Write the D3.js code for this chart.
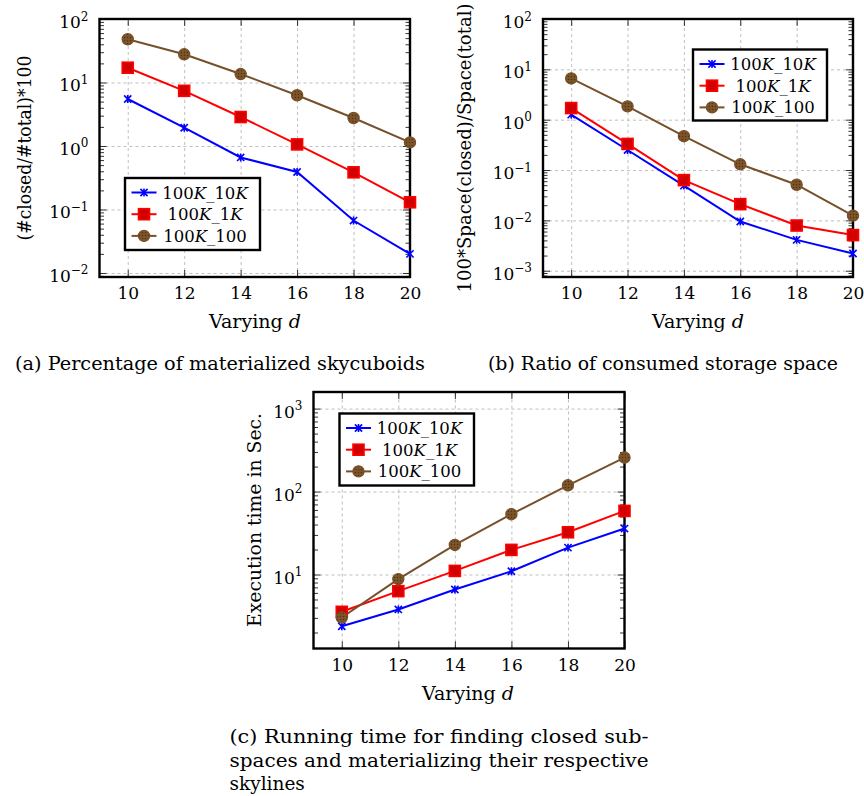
<!DOCTYPE html>
<html>
<head>
<meta charset="utf-8">
<script src="https://cdn.jsdelivr.net/npm/d3@7"></script>
<style>
  body { margin: 0; background: #fff; }
  svg { display: block; }
  text { font-family: "DejaVu Serif", "Liberation Serif", serif; fill: #000; }
</style>
</head>
<body>
<svg id="fig" width="864" height="796"></svg>
<script>
// ---- data ----
const dValues = [10, 12, 14, 16, 18, 20];
const xTicks = [10, 12, 14, 16, 18, 20];
const seriesKeys = ["10K", "1K", "100"];

// (a) percentage of materialized skycuboids
const closedPct10K = [5.5, 1.94, 0.66, 0.39, 0.067, 0.020];
const closedPct1K  = [17.1, 7.4, 2.86, 1.06, 0.385, 0.13];
const closedPct100 = [48, 27.8, 13.6, 6.3, 2.76, 1.14];

// (b) ratio of consumed storage space
const spaceRatio10K = [1.26, 0.25, 0.049, 0.0095, 0.0041, 0.0022];
const spaceRatio1K  = [1.7, 0.33, 0.063, 0.021, 0.0079, 0.0051];
const spaceRatio100 = [6.6, 1.84, 0.47, 0.13, 0.051, 0.0124];

// (c) running time in seconds
const runTime10K = [2.38, 3.79, 6.6, 10.95, 21.1, 35.8];
const runTime1K  = [3.55, 6.3, 11.05, 19.8, 32.3, 58.4];
const runTime100 = [3.03, 8.8, 22.7, 53.3, 119, 257];

const yTickExpA = [-2, -1, 0, 1, 2];
const yTickExpB = [-3, -2, -1, 0, 1, 2];
const yTickExpC = [1, 2, 3];

// ---- drawing ----
const svg = d3.select("#fig");
const BLUE = "#0000ff", RED = "#ff0000", BROWN = "#76502a";

const defs = svg.append("defs");
const pat = defs.append("pattern").attr("id", "dots")
  .attr("patternUnits", "userSpaceOnUse").attr("width", 3).attr("height", 3);
pat.append("rect").attr("width", 3).attr("height", 3).attr("fill", "#7d5529");
pat.append("circle").attr("cx", 1.5).attr("cy", 1.5).attr("r", 0.75).attr("fill", "#4f3216");

const styles = {
  "10K": { color: BLUE },
  "1K":  { color: RED },
  "100": { color: BROWN }
};

function drawMarker(g, key, cx, cy) {
  if (key === "10K") {
    const r = 3.6;
    g.append("path")
      .attr("d", `M${cx - r},${cy - r}L${cx + r},${cy + r}M${cx - r},${cy + r}L${cx + r},${cy - r}M${cx},${cy - r * 1.1}L${cx},${cy + r * 1.1}`)
      .attr("stroke", BLUE).attr("stroke-width", 1.6).attr("fill", "none");
  } else if (key === "1K") {
    g.append("rect").attr("x", cx - 5.5).attr("y", cy - 5.5)
      .attr("width", 11).attr("height", 11)
      .attr("fill", "#d20000").attr("stroke", RED).attr("stroke-width", 1.6);
  } else {
    g.append("circle").attr("cx", cx).attr("cy", cy).attr("r", 5.6)
      .attr("fill", "url(#dots)").attr("stroke", BROWN).attr("stroke-width", 1.2);
  }
}

function legendLabel(t, key) {
  t.append("tspan").text("100");
  t.append("tspan").attr("font-style", "italic").text("K");
  t.append("tspan").text("_");
  if (key === "100") {
    t.append("tspan").text("100");
  } else {
    t.append("tspan").text(key === "10K" ? "10" : "1");
    t.append("tspan").attr("font-style", "italic").text("K");
  }
}

function supLabel(sel, exp) {
  sel.text(null);
  sel.append("tspan").text("10");
  sel.append("tspan").attr("font-size", 12).attr("dy", -7.5)
    .text(String(exp).replace("-", "\u2212"));
}

function panel(cfg) {
  const g = svg.append("g");
  const x = d3.scaleLinear().domain([9, 20]).range([cfg.x0, cfg.x1]);
  const y = d3.scaleLog().domain([cfg.ymin, cfg.ymax]).range([cfg.y1, cfg.y0]);
  const W = cfg.x1 - cfg.x0, H = cfg.y1 - cfg.y0;
  const majors = cfg.exps.map(e => Math.pow(10, e));
  const minors = [];
  const lo = Math.floor(Math.log10(cfg.ymin)), hi = Math.ceil(Math.log10(cfg.ymax));
  for (let e = lo; e < hi; e++) for (let m = 2; m <= 9; m++) {
    const v = m * Math.pow(10, e);
    if (v >= cfg.ymin && v <= cfg.ymax) minors.push(v);
  }

  // dashed major grid
  const gridStyle = s => {
    s.select(".domain").remove();
    s.selectAll(".tick line").attr("stroke", "#b8b8b8").attr("stroke-width", 0.9).attr("stroke-dasharray", "3,3");
  };
  g.append("g").attr("transform", `translate(${cfg.x0},0)`)
    .call(d3.axisLeft(y).tickValues(majors).tickSize(-W).tickFormat("")).call(gridStyle);
  g.append("g").attr("transform", `translate(0,${cfg.y1})`)
    .call(d3.axisBottom(x).tickValues(xTicks).tickSize(-H).tickFormat("")).call(gridStyle);

  // ticks (inside, on both sides)
  const tickStyle = s => { s.select(".domain").remove(); s.selectAll(".tick line").attr("stroke", "#000").attr("stroke-width", 0.8); };
  g.append("g").attr("transform", `translate(${cfg.x0},0)`)
    .call(d3.axisLeft(y).tickValues(minors).tickSize(-4.5).tickFormat("")).call(tickStyle);
  g.append("g").attr("transform", `translate(${cfg.x1},0)`)
    .call(d3.axisRight(y).tickValues(minors).tickSize(-4.5).tickFormat("")).call(tickStyle);
  g.append("g").attr("transform", `translate(${cfg.x1},0)`)
    .call(d3.axisRight(y).tickValues(majors).tickSize(-7).tickFormat("")).call(tickStyle);
  g.append("g").attr("transform", `translate(0,${cfg.y0})`)
    .call(d3.axisTop(x).tickValues(xTicks).tickSize(-7).tickFormat("")).call(tickStyle);

  const yAx = g.append("g").attr("transform", `translate(${cfg.x0},0)`)
    .call(d3.axisLeft(y).tickValues(majors).tickSize(-7).tickPadding(11).tickFormat(d => d))
    .call(tickStyle);
  yAx.attr("font-family", null).attr("font-size", null);
  yAx.selectAll(".tick text")
    .attr("font-size", 17).attr("dy", 8.5)
    .each(function (d) { supLabel(d3.select(this), Math.round(Math.log10(d))); });

  const xAx = g.append("g").attr("transform", `translate(0,${cfg.y1})`)
    .call(d3.axisBottom(x).tickValues(xTicks).tickSize(-7).tickPadding(10))
    .call(tickStyle);
  xAx.attr("font-family", null).attr("font-size", null);
  xAx.selectAll(".tick text").attr("font-size", 17);

  // frame
  g.append("rect").attr("x", cfg.x0).attr("y", cfg.y0).attr("width", W).attr("height", H)
    .attr("fill", "none").attr("stroke", "#000").attr("stroke-width", 2.4);

  // series lines, then markers on top
  const line = d3.line().x((d, i) => x(dValues[i])).y(d => y(d));
  cfg.series.forEach((vals, k) => {
    const key = seriesKeys[k];
    g.append("path").datum(vals).attr("d", line)
      .attr("fill", "none").attr("stroke", styles[key].color).attr("stroke-width", 2);
  });
  cfg.series.forEach((vals, k) => {
    const key = seriesKeys[k];
    const mg = g.append("g");
    vals.forEach((v, i) => drawMarker(mg, key, x(dValues[i]), y(v)));
  });

  // axis titles
  const xt = g.append("text").attr("x", cfg.xTitleX).attr("y", cfg.y1 + 51)
    .attr("text-anchor", "middle").attr("font-size", 18.5)
    .attr("textLength", 92).attr("lengthAdjust", "spacingAndGlyphs");
  xt.append("tspan").text("Varying ");
  xt.append("tspan").attr("font-style", "italic").text("d");

  g.append("text")
    .attr("transform", `translate(${cfg.yTitleX},${cfg.yTitleY}) rotate(-90)`)
    .attr("text-anchor", "middle").attr("font-size", 18)
    .attr("textLength", cfg.yTitleLen).attr("lengthAdjust", "spacingAndGlyphs")
    .text(cfg.yTitle);

  // legend
  const L = cfg.legend;
  const lg = g.append("g");
  lg.append("rect").attr("x", L.x).attr("y", L.y).attr("width", L.w).attr("height", L.h)
    .attr("fill", "#fff").attr("stroke", "#000").attr("stroke-width", 2.4);
  seriesKeys.forEach((key, k) => {
    const cy = L.y + 14.5 + k * 21.7;
    const lx0 = L.x + 6.5, lx1 = L.x + 31.5;
    lg.append("line").attr("x1", lx0).attr("x2", lx1).attr("y1", cy).attr("y2", cy)
      .attr("stroke", styles[key].color).attr("stroke-width", 2);
    drawMarker(lg, key, (lx0 + lx1) / 2, cy);
    const t = lg.append("text").attr("x", L.x + 80).attr("y", cy + 6)
      .attr("text-anchor", "middle").attr("font-size", 16.5);
    legendLabel(t, key);
  });
}

panel({
  x0: 99.5, x1: 410, y0: 19, y1: 277,
  ymin: Math.pow(10, -2.063), ymax: 100, exps: yTickExpA,
  series: [closedPct10K, closedPct1K, closedPct100],
  xTitleX: 255, yTitle: "(#closed/#total)*100", yTitleX: 31, yTitleY: 148, yTitleLen: 185,
  legend: { x: 125, y: 178, w: 135, h: 72 }
});

panel({
  x0: 543, x1: 853, y0: 19, y1: 277,
  ymin: Math.pow(10, -3.125), ymax: 100, exps: yTickExpB,
  series: [spaceRatio10K, spaceRatio1K, spaceRatio100],
  xTitleX: 698, yTitle: "100*Space(closed)/Space(total)", yTitleX: 471, yTitleY: 148, yTitleLen: 289,
  legend: { x: 693, y: 49.5, w: 134, h: 71 }
});

panel({
  x0: 313.5, x1: 624.5, y0: 392, y1: 648.5,
  ymin: Math.pow(10, 0.108), ymax: Math.pow(10, 3.2), exps: yTickExpC,
  series: [runTime10K, runTime1K, runTime100],
  xTitleX: 468, yTitle: "Execution time in Sec.", yTitleX: 261, yTitleY: 520, yTitleLen: 214,
  legend: { x: 339.5, y: 413.5, w: 134.5, h: 72 }
});

// sub-figure captions
const cap = (x, y, len, str) => svg.append("text").attr("x", x).attr("y", y)
  .attr("font-size", 18.5).attr("textLength", len).attr("lengthAdjust", "spacingAndGlyphs").text(str);
cap(15, 370, 410, "(a) Percentage of materialized skycuboids");
cap(488, 370, 350, "(b) Ratio of consumed storage space");
cap(229.5, 743, 419, "(c) Running time for finding closed sub-");
cap(229.5, 766.5, 419, "spaces and materializing their respective");
svg.append("text").attr("x", 229.5).attr("y", 790).attr("font-size", 18.5).text("skylines");
</script>
</body>
</html>
